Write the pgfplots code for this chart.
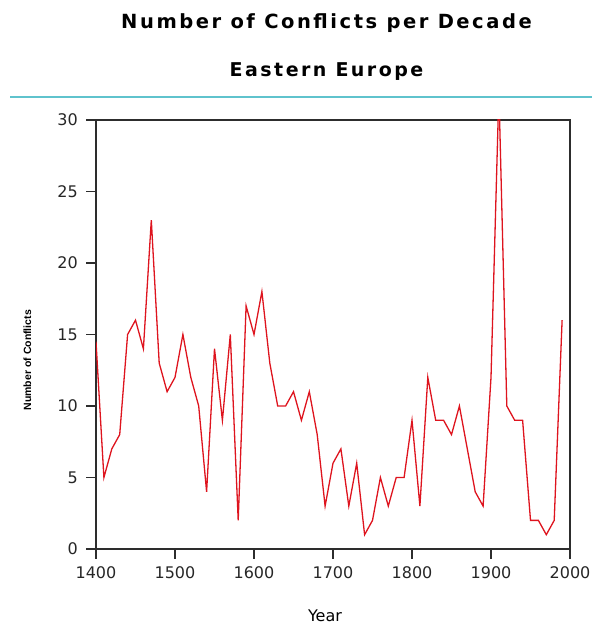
\documentclass[border=0pt]{standalone}
\usepackage{fontspec}
\usepackage{pgfplots}
\pgfplotsset{compat=1.18}
\setmainfont{DejaVu Sans}
\newfontfamily\titlefont[LetterSpace=13]{DejaVu Sans}
\newfontfamily\labfont{Liberation Sans}
\definecolor{confred}{RGB}{222,20,30}
\definecolor{rulecyan}{RGB}{95,195,205}
\definecolor{axgray}{RGB}{45,45,45}

\begin{document}
\begin{tikzpicture}[x=1bp,y=1bp]
\useasboundingbox (0,0) rectangle (592,625);

% titles and rule
\node[anchor=base,inner sep=0pt] at (326.5,596)
  {\titlefont\bfseries\fontsize{19.5bp}{22bp}\selectfont Number of Conflicts per Decade};
\node[anchor=base,inner sep=0pt] at (326.5,548)
  {\titlefont\bfseries\fontsize{19bp}{22bp}\selectfont Eastern Europe};
\draw[rulecyan,line width=2bp] (10,528) -- (592,528);

\begin{axis}[
  at={(96bp,76bp)}, anchor=south west,
  scale only axis,
  width=474bp, height=429bp,
  xmin=1400, xmax=2000,
  ymin=0, ymax=30,
  xtick={1400,1500,...,2000},
  ytick={0,5,...,30},
  axis line style={axgray,line width=1.3bp},
  tick style={axgray,line width=1.2bp},
  major tick length=10bp,
  tick align=outside,
  xtick pos=bottom, ytick pos=left,
  /pgf/number format/1000 sep={},
  /pgf/number format/assume math mode=true,
  ticklabel style={font=\fontsize{16bp}{18bp}\selectfont, text=black!85},
  xticklabel style={inner sep=0pt, yshift=-7bp},
  yticklabel style={inner sep=0pt, xshift=-8bp},
  xlabel={Year},
  xlabel style={at={(axis description cs:0.483,0)}, anchor=north,
    inner sep=0pt, yshift=-61bp, font=\fontsize{16bp}{18bp}\selectfont},
  ylabel={Number of Conflicts},
  ylabel style={at={(axis description cs:-0.145,0.44)}, anchor=center,
    inner sep=0pt, font=\labfont\bfseries\fontsize{10.5bp}{12bp}\selectfont},
]
\addplot[confred, line width=1.3bp, mark=none] coordinates {
  (1400,14.5) (1410,5) (1420,7) (1430,8) (1440,15) (1450,16) (1460,14)
  (1470,23) (1480,13) (1490,11) (1500,12) (1510,15) (1520,12) (1530,10)
  (1540,4) (1550,14) (1560,9) (1570,15) (1580,2) (1590,17) (1600,15)
  (1610,18) (1620,13) (1630,10) (1640,10) (1650,11) (1660,9) (1670,11)
  (1680,8) (1690,3) (1700,6) (1710,7) (1720,3) (1730,6) (1740,1)
  (1750,2) (1760,5) (1770,3) (1780,5) (1790,5) (1800,9) (1810,3)
  (1820,12) (1830,9) (1840,9) (1850,8) (1860,10) (1870,7) (1880,4)
  (1890,3) (1900,12) (1910,32) (1920,10) (1930,9) (1940,9) (1950,2)
  (1960,2) (1970,1) (1980,2) (1990,16)
};
\end{axis}
\end{tikzpicture}
\end{document}
